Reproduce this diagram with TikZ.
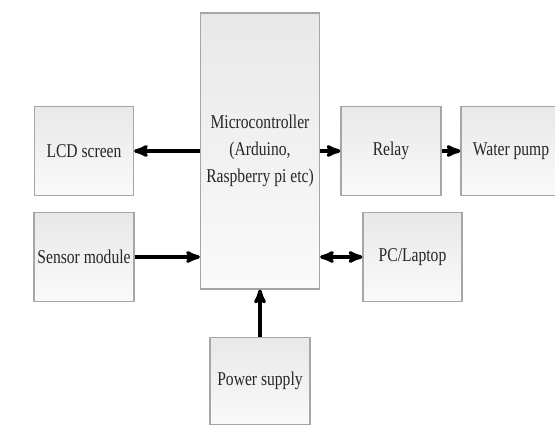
\documentclass[tikz,border=0pt]{standalone}
\usepackage{fontspec}
\setmainfont[FakeStretch=0.8]{Liberation Serif}
\usepackage{tikz}
\usetikzlibrary{arrows}

\begin{document}
\begin{tikzpicture}[x=1pt,y=-1pt,->,>=stealth',line width=3.4pt,
                    font=\fontsize{19.5}{27}\selectfont]
  \tikzstyle{block}=[draw=black!35,line width=1.2pt,top color=black!9,bottom color=black!2,
                     text=black!85,minimum width=99pt,minimum height=89pt,align=center]
  \useasboundingbox (0,0) rectangle (555,446);

  \node[block,minimum width=119pt,minimum height=276pt] (mcu) at (260,151)
        {Microcontroller\\(Arduino,\\Raspberry pi etc)};
  \node[block] (lcd)    [left of=mcu, node distance=176pt]  {LCD screen};
  \node[block] (sensor) [below of=lcd, node distance=106pt] {Sensor module};
  \node[block,minimum width=100pt] (relay) [right of=mcu, node distance=131pt] {Relay};
  \node[block,minimum width=100pt] (pump)  [right of=relay, node distance=120pt] {Water pump};
  \node[block] (pc)     [below of=relay, node distance=106pt, xshift=21.5pt] {PC/Laptop};
  \node[block,minimum width=100pt,minimum height=87pt] (power) [below of=mcu, node distance=230pt] {Power supply};

  \draw (mcu) -- (lcd);
  \draw (sensor) -- (sensor -| mcu.west);
  \draw (mcu) -- (relay);
  \draw (relay) -- (pump);
  \draw[<->] (mcu.east |- pc) -- (pc);
  \draw (power) -- (mcu);
\end{tikzpicture}
\end{document}
